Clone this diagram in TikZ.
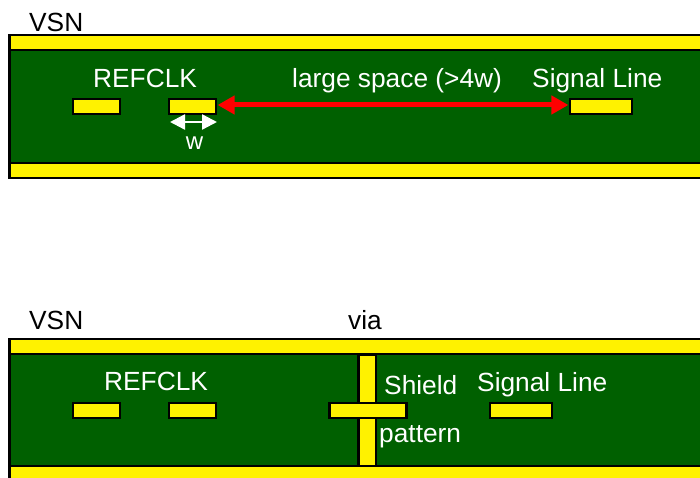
\documentclass[tikz,border=0pt]{standalone}
\usepackage{fontspec}
\setmainfont{Liberation Sans}
\usetikzlibrary{arrows.meta}
\definecolor{pcb}{RGB}{0,96,0}
\tikzset{
  x=1pt,y=-1pt,
  band/.style={draw=black,line width=2.6pt,fill=yellow},
  board/.style={draw=black,line width=2.6pt,fill=pcb},
  trace/.style={draw=black,line width=2.2pt,fill=yellow,rectangle,inner sep=0pt,minimum height=15pt},
  dark/.style={text=black,font=\fontsize{26.3}{28}\selectfont,inner sep=0pt},
  lite/.style={text=white,font=\fontsize{26.3}{28}\selectfont,inner sep=0pt},
  small/.style={text=white,font=\fontsize{24}{28}\selectfont,inner sep=0pt},
  redarrow/.style={draw=red,line width=5pt,{Triangle[length=17pt,width=18pt]}-{Triangle[length=17pt,width=18pt]},shorten <=0.5pt,shorten >=0.5pt},
  whitearrow/.style={draw=white,line width=2.4pt,{Triangle[length=15pt,width=15pt]}-{Triangle[length=15pt,width=15pt]}}
}
\begin{document}
\begin{tikzpicture}
\useasboundingbox (0,0) rectangle (700,478);
\fill[white] (0,0) rectangle (700,478);
% top stack
\draw[board] (9.5,50) rectangle (712,163);
\draw[band] (9.5,35) rectangle (712,50);
\draw[band] (9.5,163) rectangle (712,178);
% bottom stack
\draw[board] (9.5,354) rectangle (712,466);
\draw[band] (9.5,339) rectangle (712,354);
\draw[band] (9.5,466) rectangle (712,490);
% top traces
\node[trace,minimum width=47pt] (a1) at (96.5,106.5) {};
\node[trace,minimum width=47pt] (a2) at (192.5,106.5) {};
\node[trace,minimum width=62pt] (a3) at (601,106.5) {};
\coordinate (rl) at (a2.east |- 0,105);
\coordinate (rr) at (a3.west |- 0,105);
\draw[redarrow] (rl) -- (rr);
\coordinate (wl) at (170,122);
\coordinate (wr) at (217,122);
\draw[whitearrow] (wl) -- (wr);
% bottom traces
\node[trace,minimum width=47pt] (b1) at (96.5,410.5) {};
\node[trace,minimum width=47pt] (b2) at (192.5,410.5) {};
\draw[draw=black,line width=2.2pt,fill=yellow] (358.5,355) rectangle (376,466);
\node[trace,minimum width=77pt] (b3) at (368,410.5) {};
\node[trace,minimum width=62pt] (b4) at (521,410.5) {};
% labels
\node[dark,anchor=base west] (t1) at (29,31.7) {VSN};
\node[lite,anchor=base west] (t2) at (93,87.7) {REFCLK};
\node[lite,anchor=base west] (t3) at (292,87.7) {large space (>4w)};
\node[lite,anchor=base west] (t4) at (532,87.7) {Signal Line};
\node[small,anchor=base] (t5) at (194.5,149.5) {w};
\node[dark,anchor=base west] (t6) at (29,329.7) {VSN};
\node[dark,anchor=base west] (t7) at (348,329.7) {via};
\node[lite,anchor=base west] (t8) at (104,390.7) {REFCLK};
\node[lite,anchor=base west] (t9) at (384,394.7) {Shield};
\node[lite,anchor=base west] (t10) at (477,391.7) {Signal Line};
\node[lite,anchor=base west] (t11) at (379,442.5) {pattern};
\end{tikzpicture}
\end{document}
